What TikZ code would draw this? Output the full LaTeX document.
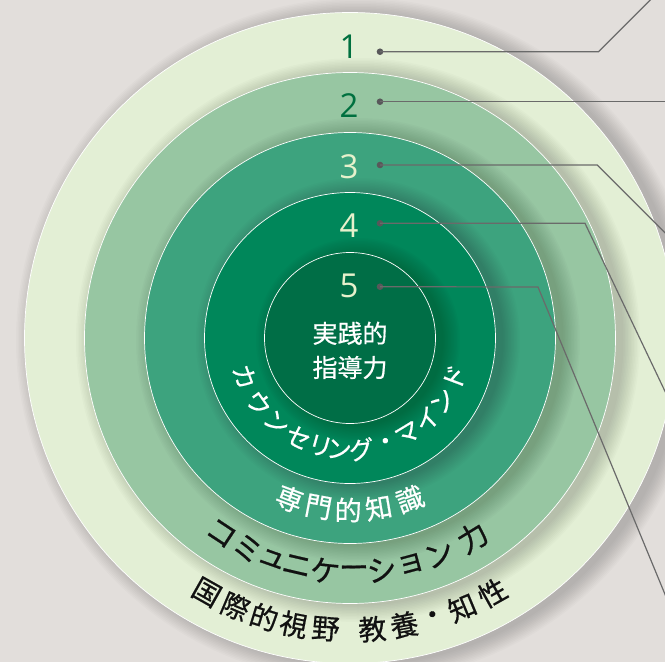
\documentclass[tikz,border=0pt]{standalone}
\usepackage{fontspec}
\setmainfont{Open Sans}
\newfontfamily\jp{Noto Sans CJK JP}[FakeBold=0.6]
\usetikzlibrary{calc}
\definecolor{bg}{HTML}{E2DEDB}
\definecolor{ringA}{HTML}{E3EFD5}
\definecolor{ringB}{HTML}{97C6A2}
\definecolor{ringC}{HTML}{3DA37E}
\definecolor{ringD}{HTML}{00875A}
\definecolor{ringE}{HTML}{006E46}
\definecolor{darkdigit}{HTML}{00703F}
\definecolor{lightdigit}{HTML}{E6F1CC}
\definecolor{leader}{HTML}{6A6A6A}
\definecolor{dotc}{HTML}{58585A}
\definecolor{ink}{HTML}{111111}
\tikzset{
  num/.style={inner sep=0pt, font=\fontsize{33}{33}\selectfont},
  dotnode/.style={circle, fill=dotc, minimum size=6.6pt, inner sep=0pt},
  leaderline/.style={draw=leader, line width=1.2pt},
  jwhite/.style={inner sep=0pt, text=white},
  jblack/.style={inner sep=0pt, text=ink},
  ringedge/.style={draw=white, line width=0.7pt},
}
\begin{document}
\begin{tikzpicture}[x=1pt,y=-1pt]
\useasboundingbox (0,0) rectangle (665,662);
\clip (0,0) rectangle (665,662);
\fill[bg] (0,0) rectangle (665,662);
\coordinate (O) at (350,338);
% rings with soft shadows
\foreach \r/\col in {325.5/ringA, 265.5/ringB, 205.5/ringC, 145.5/ringD, 85.5/ringE}{
  \foreach \j in {0,...,11}{
    \fill[black, opacity=0.015] ([shift={(8pt,-2pt)}]O) circle[radius={(\r+\j*1.5)*1pt}];
  }
  \fill[\col] (O) circle[radius=\r pt];
  \draw[ringedge] (O) circle[radius=\r pt];
}
% curved labels
\foreach \c/\a [count=\i] in {国/240.6, 際/246.9, 的/252.9, 視/258.9, 野/265.2, 教/274.4, 養/280.7, ・/286.6, 知/292.6, 性/299.2}{
  \node[jblack, font=\jp\fontsize{28}{28}\selectfont, rotate=\a+90] (ka\i) at ([shift={(\a:292pt)}]O) {\c};
}
\foreach \c/\a [count=\i] in {コ/236.6, ミ/244.0, ュ/250.6, ニ/256.9, ケ/263.9, ー/271.0, シ/277.8, ョ/285.1, ン/292.4, 力/301.6}{
  \node[jblack, font=\jp\fontsize{30}{30}\selectfont, rotate=\a+90] (kb\i) at ([shift={(\a:234pt)}]O) {\c};
}
\foreach \c/\a [count=\i] in {専/249.4, 門/259.4, 的/269.4, 知/279.6, 識/290.4}{
  \node[jwhite, font=\jp\fontsize{27}{27}\selectfont, rotate=\a+90] (kc\i) at ([shift={(\a:172pt)}]O) {\c};
}
\foreach \c/\a [count=\i] in {カ/200.2, ウ/215.5, ン/229.0, セ/242.6, リ/254.6, ン/264.4, グ/275.8, ・/289.0, マ/301.2, イ/313.6, ン/325.8, ド/339.3}{
  \node[jwhite, font=\jp\fontsize{25}{25}\selectfont, rotate=\a+90] (kd\i) at ([shift={(\a:112pt)}]O) {\c};
}
% core text
\node[jwhite, font=\jp\fontsize{25}{25}\selectfont] (core1) at (350,333.3) {実践的};
\node[jwhite, font=\jp\fontsize{25}{25}\selectfont] (core2) at (350,367.5) {指導力};
% numbers
\node[num, text=darkdigit] (n1) at (349,46.7) {1};
\node[num, text=darkdigit] (n2) at (349,105.8) {2};
\node[num, text=lightdigit] (n3) at (349,166.7) {3};
\node[num, text=lightdigit] (n4) at (349,225.8) {4};
\node[num, text=lightdigit] (n5) at (349,285.8) {5};
% dots
\node[dotnode] (d1) at (380,51.7) {};
\node[dotnode] (d2) at (380,101.7) {};
\node[dotnode] (d3) at (380,165) {};
\node[dotnode] (d4) at (380,223.3) {};
\node[dotnode] (d5) at (380,286.7) {};
% leader bends and ends
\coordinate (b1) at (598.5,51.7);
\coordinate (e1) at (680,-29.8);
\coordinate (e2) at (680,101.7);
\coordinate (b3) at (597.3,165);
\coordinate (e3) at (680,247.7);
\coordinate (b4) at (585,223.3);
\coordinate (e4) at (680,422.8);
\coordinate (b5) at (538,287);
\coordinate (e5) at (680,630.6);
\draw[leaderline] (d1.center) -- (b1) -- (e1);
\draw[leaderline] (d2.center) -- (e2);
\draw[leaderline] (d3.center) -- (b3) -- (e3);
\draw[leaderline] (d4.center) -- (b4) -- (e4);
\draw[leaderline] (d5.center) -- (b5) -- (e5);
\end{tikzpicture}
\end{document}
